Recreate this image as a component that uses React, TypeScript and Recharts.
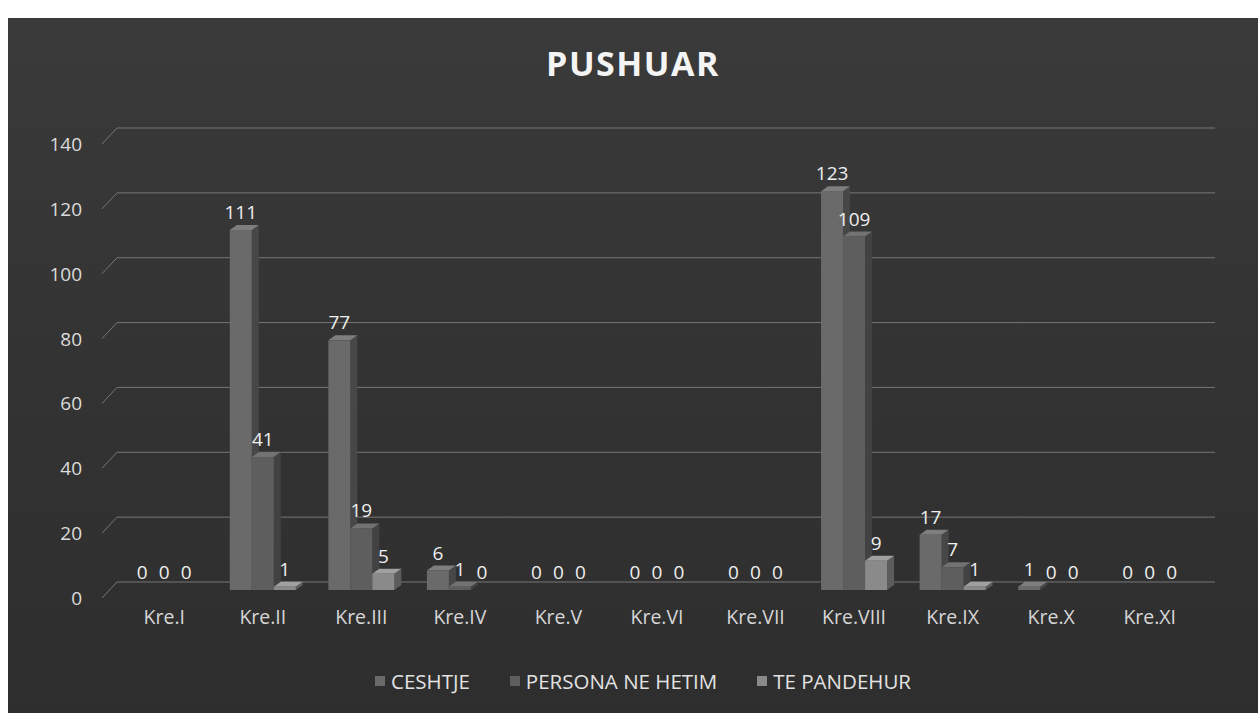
import { Bar, BarChart, LabelList, XAxis, YAxis } from 'recharts';

const categories = ['Kre.I', 'Kre.II', 'Kre.III', 'Kre.IV', 'Kre.V', 'Kre.VI', 'Kre.VII', 'Kre.VIII', 'Kre.IX', 'Kre.X', 'Kre.XI'];
const ceshtje = [0, 111, 77, 6, 0, 0, 0, 123, 17, 1, 0];
const personaNeHetim = [0, 41, 19, 1, 0, 0, 0, 109, 7, 0, 0];
const tePandehur = [0, 1, 5, 0, 0, 0, 0, 9, 1, 0, 0];
const yTicks = [0, 20, 40, 60, 80, 100, 120, 140];

const SERIES = [
  { key: 'ceshtje', name: 'CESHTJE', front: '#6a6a6a', side: '#474747', top: '#7e7e7e' },
  { key: 'persona', name: 'PERSONA NE HETIM', front: '#5e5e5e', side: '#424242', top: '#727272' },
  { key: 'pandehur', name: 'TE PANDEHUR', front: '#8a8a8a', side: '#5c5c5c', top: '#a0a0a0' },
];

const data = categories.map((label, i) => ({
  label,
  ceshtje: ceshtje[i],
  persona: personaNeHetim[i],
  pandehur: tePandehur[i],
}));

const FONT = '"Open Sans", "Noto Sans", sans-serif';
const PLOT_LEFT = 115;
const WALL_RIGHT = 1215;
const BACK = 8; // how far the back wall sits above the front values
const DX = 7;
const DY = 5;
const MARGIN = { top: 136, right: 43, bottom: 83, left: 15 };

// front face + side + top, a cheap take on Excel's 3D columns
function Column3D(colors: { front: string; side: string; top: string }) {
  return (props: any) => {
    const { x, y, width, height } = props;
    if (!height || height < 0.5) return <g />;
    return (
      <g>
        <polygon
          points={`${x + width},${y} ${x + width + DX},${y - DY} ${x + width + DX},${y + height - DY} ${x + width},${y + height}`}
          fill={colors.side}
        />
        <polygon
          points={`${x},${y} ${x + DX},${y - DY} ${x + width + DX},${y - DY} ${x + width},${y}`}
          fill={colors.top}
        />
        <rect x={x} y={y} width={width} height={height} fill={colors.front} />
      </g>
    );
  };
}

const Nothing = () => <g />;

// tick label plus the back-wall gridline with its little slanted lead-in
function YTick({ y, payload }: any) {
  return (
    <g>
      <polyline
        points={`${PLOT_LEFT - 13},${y + BACK} ${PLOT_LEFT + 2},${y - BACK} ${WALL_RIGHT},${y - BACK}`}
        fill="none"
        stroke="#767676"
        strokeWidth={1}
      />
      <text x={PLOT_LEFT - 33} y={y + BACK} textAnchor="end" dominantBaseline="central" fill="#dcdcdc" fontSize={19} fontFamily={FONT}>
        {payload.value}
      </text>
    </g>
  );
}

export default function App() {
  const xAxisProps = {
    dataKey: 'label',
    axisLine: false,
    tickLine: false,
    height: 40,
    tickMargin: 14,
    padding: { left: 0, right: 16 },
  };
  const yAxisProps = {
    width: 100,
    domain: [0, 140] as [number, number],
    ticks: yTicks,
    axisLine: false,
    tickLine: false,
  };
  return (
    <div style={{ position: 'fixed', left: 0, top: 0, width: 1258, height: 713, background: '#ffffff', overflow: 'hidden' }}>
      <div
        style={{
          position: 'absolute',
          left: 8,
          top: 18,
          width: 1250,
          height: 695,
          background: 'linear-gradient(180deg, #3a3a3a 0%, #333333 50%, #2e2e2e 100%)',
        }}
      />
      <div
        style={{
          position: 'absolute',
          left: 8,
          top: 40,
          width: 1250,
          textAlign: 'center',
          fontFamily: FONT,
          fontWeight: 700,
          fontSize: 34,
          letterSpacing: 1.5,
          color: '#f4f4f4',
        }}
      >
        PUSHUAR
      </div>
      {/* back layer: axes and wall gridlines (series kept only for the scales) */}
      <div style={{ position: 'absolute', left: 0, top: 0 }}>
        <BarChart width={1258} height={713} data={data} margin={MARGIN} barCategoryGap="16.5%" barGap={0}>
          <YAxis {...yAxisProps} tick={<YTick />} />
          <XAxis {...xAxisProps} tick={{ fill: '#d6d6d6', fontSize: 19.5, fontFamily: FONT }} />
          {SERIES.map((s) => (
            <Bar key={s.key} dataKey={s.key} shape={Nothing} isAnimationActive={false} />
          ))}
        </BarChart>
      </div>
      {/* front layer: the columns, so they hide the gridlines behind them */}
      <div style={{ position: 'absolute', left: 0, top: 0 }}>
        <BarChart width={1258} height={713} data={data} margin={MARGIN} barCategoryGap="16.5%" barGap={0}>
          <YAxis {...yAxisProps} tick={false} />
          <XAxis {...xAxisProps} tick={false} />
          {SERIES.map((s) => (
            <Bar key={s.key} dataKey={s.key} name={s.name} fill={s.front} shape={Column3D(s)} isAnimationActive={false}>
              <LabelList dataKey={s.key} position="top" offset={11} fill="#eeeeee" fontSize={19} fontFamily={FONT} />
            </Bar>
          ))}
        </BarChart>
      </div>
      <div
        style={{
          position: 'absolute',
          left: 18,
          top: 667,
          width: 1250,
          display: 'flex',
          justifyContent: 'center',
          gap: 40,
          fontFamily: FONT,
          fontSize: 20.5,
          color: '#e2e2e2',
        }}
      >
        {SERIES.map((s) => (
          <div key={s.key} style={{ display: 'flex', alignItems: 'center' }}>
            <span style={{ display: 'inline-block', width: 10, height: 10, background: s.front, marginRight: 6 }} />
            {s.name}
          </div>
        ))}
      </div>
    </div>
  );
}
